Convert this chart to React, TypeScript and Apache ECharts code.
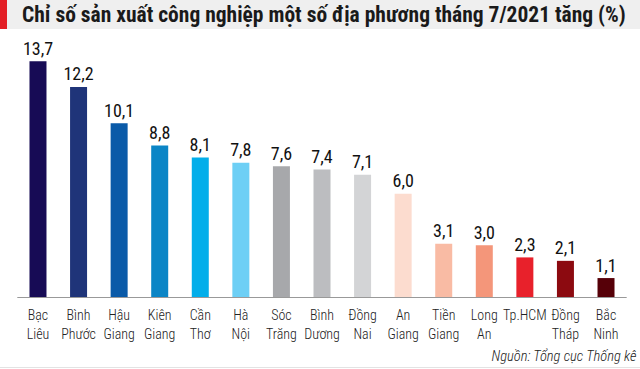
import React, { useEffect, useRef } from "react";
import * as echarts from "echarts";

const categories = [
  "Bạc\nLiêu", "Bình\nPhước", "Hậu\nGiang", "Kiên\nGiang", "Cần\nThơ", "Hà\nNội",
  "Sóc\nTrăng", "Bình\nDương", "Đồng\nNai", "An\nGiang", "Tiền\nGiang", "Long\nAn",
  "Tp.HCM", "Đồng\nTháp", "Bắc\nNinh",
];
const values = [13.7, 12.2, 10.1, 8.8, 8.1, 7.8, 7.6, 7.4, 7.1, 6.0, 3.1, 3.0, 2.3, 2.1, 1.1];
const colors = [
  "#170b55", "#1f3479", "#0a5aa8", "#0b85c6", "#02aeea", "#6dcff5",
  "#a7a8ab", "#bcbdc0", "#d3d4d6", "#fcdccf", "#f9bba4", "#f4967a",
  "#e8212b", "#8c0a10", "#560008",
];
const title = "Chỉ số sản xuất công nghiệp một số địa phương tháng 7/2021 tăng (%)";
const source = "Nguồn: Tổng cục Thống kê";

const narrow = "'Roboto Condensed', 'Noto Sans Condensed', 'Open Sans Condensed', 'DejaVu Sans Condensed', sans-serif";

export default function App() {
  const ref = useRef<HTMLDivElement>(null);
  useEffect(() => {
    if (!ref.current) return;
    const chart = echarts.init(ref.current, null, { renderer: "svg" });
    chart.setOption({
      animation: false,
      backgroundColor: "#ffffff",
      graphic: [
        { type: "rect", left: 0, top: 0, shape: { width: 640, height: 29 }, style: { fill: "#efefef" } },
        { type: "rect", left: 0, top: 0, shape: { width: 7, height: 29 }, style: { fill: "#e31e25" } },
        {
          type: "text", x: 22, y: 3,
          style: { text: title, font: `bold 21.5px ${narrow}`, fill: "#1a1a1a" },
        },
        {
          type: "text", right: 3, top: 349,
          style: { text: source, font: `italic 300 14.5px ${narrow}`, fill: "#222" },
        },
        { type: "rect", left: 0, top: 367, shape: { width: 640, height: 1 }, style: { fill: "#e3e3e3" } },
      ],
      grid: { left: 17.7, right: 13.7, top: 56, bottom: 72 },
      xAxis: {
        type: "category",
        data: categories,
        axisLine: { lineStyle: { color: "#999", width: 1 } },
        axisTick: { show: false },
        axisLabel: {
          interval: 0, margin: 8, color: "#222",
          fontFamily: narrow, fontSize: 14, fontWeight: 300, lineHeight: 19,
        },
      },
      yAxis: { type: "value", min: 0, max: 14, show: false, splitLine: { show: false } },
      series: [
        {
          type: "bar",
          barWidth: 17,
          data: values.map((v, i) => ({ value: v, itemStyle: { color: colors[i] } })),
          label: {
            show: true, position: "top", distance: 4, color: "#111",
            fontFamily: narrow, fontSize: 18,
            formatter: (p: any) => p.value.toFixed(1).replace(".", ","),
          },
        },
      ],
    });
    return () => chart.dispose();
  }, []);
  return <div ref={ref} style={{ width: 640, height: 369, position: "absolute", left: 0, top: 0 }} />;
}
